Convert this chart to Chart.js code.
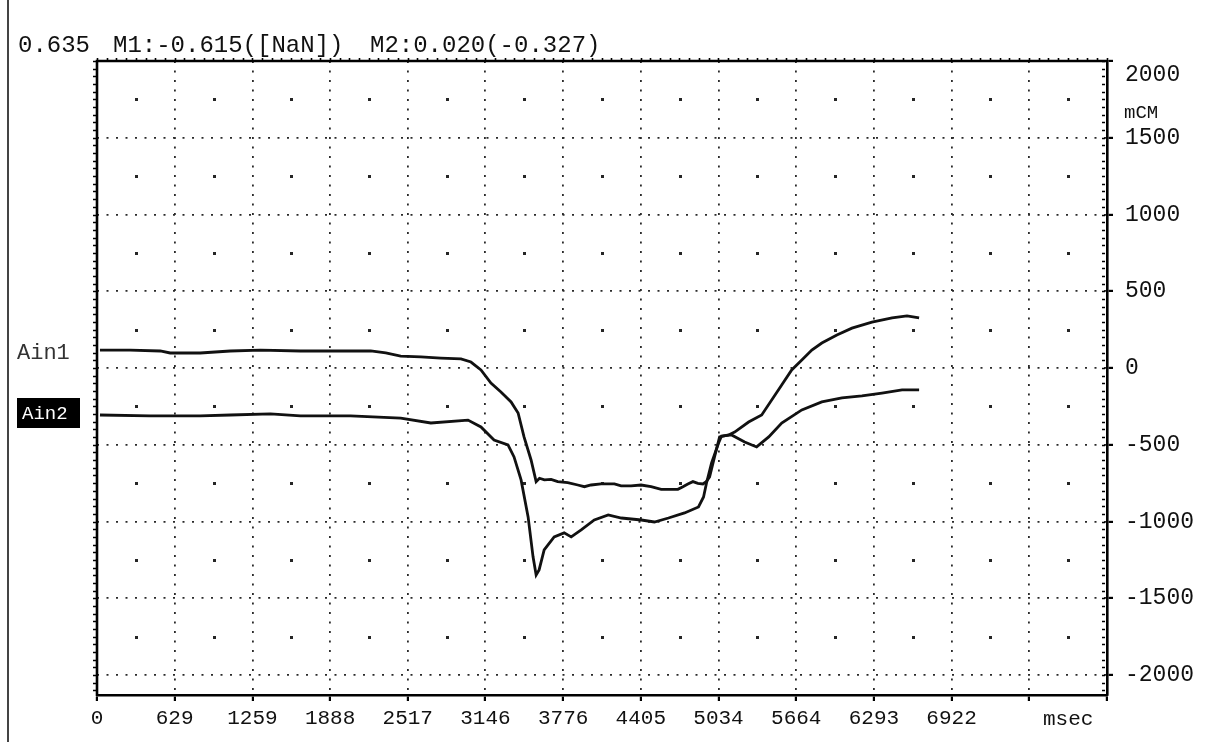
<!DOCTYPE html>
<html>
<head>
<meta charset="utf-8">
<script src="https://cdn.jsdelivr.net/npm/chart.js@4.4.1/dist/chart.umd.min.js"></script>
<style>
  html, body { margin: 0; padding: 0; background: #fff; }
  #wrap { width: 1211px; height: 742px; position: relative; }
  canvas { display: block; }
</style>
</head>
<body>
<div id="wrap"><canvas id="scope" width="1211" height="742"></canvas></div>
<script>
// Channel 1 trace (msec, mCM)
const timeA = [24, 268, 512, 593, 836, 1080, 1324, 1648, 1973, 2217, 2339, 2460, 2623, 2785, 2948, 3029,
  3110, 3191, 3272, 3354, 3411, 3459, 3516, 3557, 3584, 3624, 3678, 3732, 3813, 3894, 3948, 4002, 4083,
  4191, 4245, 4326, 4407, 4488, 4570, 4624, 4705, 4746, 4786, 4827, 4867, 4908, 4935,
  4962, 5002, 5043, 5116, 5165, 5278, 5384, 5546, 5627, 5709, 5790, 5871, 5993, 6115, 6277,
  6440, 6561, 6659];
const valueA = [117, 117, 111, 98, 98, 111, 117, 111, 111, 111, 98, 78, 72, 65, 59, 39,
  -13, -98, -156, -221, -293, -449, -599, -740, -718, -729, -725, -740, -747, -762, -773, -762, -755,
  -755, -768, -768, -762, -773, -790, -790, -790, -773, -755, -740, -751, -755, -740,
  -710, -579, -449, -436, -417, -352, -306, -111, -13, 52, 117, 163, 215, 260, 299,
  326, 339, 326];

// Channel 2 trace (msec, mCM)
const timeB = [24, 430, 836, 1080, 1405, 1648, 2054, 2460, 2704, 3005, 3110, 3216, 3329, 3378, 3435,
  3492, 3532, 3557, 3581, 3622, 3703, 3784, 3841, 3922, 4028, 4141, 4247, 4409, 4515, 4629, 4759, 4872,
  4913, 4937, 4978, 5035, 5059, 5140, 5246, 5343, 5441, 5546, 5709, 5871, 6034, 6196, 6358, 6521, 6659];
const valueB = [-306, -312, -312, -306, -299, -312, -312, -326, -358, -339, -384, -469, -501, -579, -729,
  -970, -1230, -1348, -1315, -1185, -1100, -1074, -1100, -1055, -990, -957, -977, -990, -1003, -977, -944, -905,
  -840, -749, -618, -488, -443, -436, -482, -514, -449, -358, -273, -221, -195, -182, -163, -143, -143];

// Axis ticks
const xTickValues = [0, 629, 1259, 1888, 2517, 3146, 3776, 4405, 5034, 5664, 6293, 6922, 7552, 8181];
const xTickLabels = ['0', '629', '1259', '1888', '2517', '3146', '3776', '4405', '5034', '5664', '6293', '6922', '', ''];
const yTickValues = [-2000, -1500, -1000, -500, 0, 500, 1000, 1500, 2000];
const yTickLabels = ['-2000', '-1500', '-1000', '-500', '0', '500', '1000', '1500', '2000'];
const xUnit = 'msec';
const yUnit = 'mCM';
const readout = ['0.635', 'M1:-0.615([NaN])', 'M2:0.020(-0.327)'];
const channelNames = ['Ain1', 'Ain2'];

const X_MIN = 0, X_MAX = 8181, Y_MIN = -2130, Y_MAX = 2000;
const MONO = '"Liberation Mono", "Courier New", monospace';
const INK = '#111';

const toPoints = (t, v) => t.map((x, i) => ({ x, y: v[i] }));

// Paper background, cell-centre dots, frame, minor ticks and the text around the plot
const scopeDecor = {
  id: 'scopeDecor',
  beforeDraw(chart) {
    const c = chart.ctx;
    c.save();
    c.fillStyle = '#fff';
    c.fillRect(0, 0, chart.width, chart.height);
    c.restore();
  },
  beforeDatasetsDraw(chart) {
    const c = chart.ctx, xs = chart.scales.x, ys = chart.scales.y;
    c.save();
    c.fillStyle = '#262626';
    for (let i = 0; i < xTickValues.length - 1; i++) {
      const px = xs.getPixelForValue((xTickValues[i] + xTickValues[i + 1]) / 2);
      for (let j = 0; j < yTickValues.length - 1; j++) {
        const py = ys.getPixelForValue((yTickValues[j] + yTickValues[j + 1]) / 2);
        c.fillRect(Math.round(px) - 1, Math.round(py) - 1, 3, 3);
      }
    }
    c.restore();
  },
  afterDraw(chart) {
    const c = chart.ctx, a = chart.chartArea, xs = chart.scales.x, ys = chart.scales.y;
    c.save();
    c.strokeStyle = '#000';
    // left and top edges of the plot frame
    c.lineWidth = 2.6;
    c.beginPath();
    c.moveTo(a.left, a.bottom + 1);
    c.lineTo(a.left, a.top);
    c.lineTo(a.right, a.top);
    c.stroke();
    // minor ticks
    c.lineWidth = 1.6;
    c.beginPath();
    for (let v = -2100; v <= Y_MAX; v += 50) {
      const py = Math.round(ys.getPixelForValue(v)) + 0.5;
      c.moveTo(a.left - 4, py); c.lineTo(a.left, py);
      c.moveTo(a.right - 5, py); c.lineTo(a.right - 2, py);
    }
    const xStep = (xTickValues[1] - xTickValues[0]) / 8;
    for (let v = 0; v <= X_MAX; v += xStep) {
      const px = Math.round(xs.getPixelForValue(v)) + 0.5;
      c.moveTo(px, a.top - 3); c.lineTo(px, a.top);
    }
    c.stroke();

    // outer frame line on the left
    c.strokeStyle = '#444';
    c.lineWidth = 2;
    c.beginPath();
    c.moveTo(8, 0); c.lineTo(8, chart.height);
    c.stroke();

    // cursor readout
    c.fillStyle = INK;
    c.textBaseline = 'middle';
    c.textAlign = 'left';
    c.font = '24px ' + MONO;
    c.fillText(readout[0], 18, 46);
    c.fillText(readout[1], 113, 46);
    c.fillText(readout[2], 370, 46);

    // unit labels
    c.font = '21px ' + MONO;
    c.textAlign = 'center';
    const ux = (xs.getPixelForValue(xTickValues[12]) + xs.getPixelForValue(xTickValues[13])) / 2;
    c.fillText(xUnit, ux, 719);
    c.textAlign = 'left';
    c.font = '19px ' + MONO;
    c.fillText(yUnit, 1124, 113);

    // channel tags
    c.font = '22px ' + MONO;
    c.fillStyle = '#333';
    c.fillText(channelNames[0], 17, 353);
    c.fillStyle = '#000';
    c.fillRect(17, 398, 63, 30);
    c.fillStyle = '#fff';
    c.font = '19px ' + MONO;
    c.fillText(channelNames[1], 22, 414);
    c.restore();
  }
};

const gridCommon = {
  color: '#2a2a2a',
  lineWidth: 1.8,
  drawTicks: true,
  tickLength: 6,
  tickColor: '#000',
  tickWidth: 2.2,
  tickBorderDash: []
};

new Chart(document.getElementById('scope').getContext('2d'), {
  type: 'line',
  data: {
    datasets: [
      { data: toPoints(timeA, valueA), borderColor: '#111', borderWidth: 2.8, pointRadius: 0, tension: 0, fill: false },
      { data: toPoints(timeB, valueB), borderColor: '#111', borderWidth: 2.8, pointRadius: 0, tension: 0, fill: false }
    ]
  },
  options: {
    responsive: false,
    animation: false,
    devicePixelRatio: 1,
    layout: { padding: { left: 97, top: 61, right: 0, bottom: 0 } },
    plugins: { legend: { display: false }, tooltip: { enabled: false } },
    scales: {
      x: {
        type: 'linear',
        position: 'bottom',
        min: X_MIN,
        max: X_MAX,
        afterBuildTicks: s => { s.ticks = xTickValues.map(v => ({ value: v })); },
        afterFit: s => { s.height = 47; },
        ticks: {
          autoSkip: false, maxRotation: 0, minRotation: 0, padding: 5, color: INK,
          font: { family: MONO, size: 21 },
          callback: (v, i) => xTickLabels[i]
        },
        grid: gridCommon,
        border: { display: true, color: '#000', width: 2.6, dash: [2, 7.5] }
      },
      y: {
        type: 'linear',
        position: 'right',
        min: Y_MIN,
        max: Y_MAX,
        afterBuildTicks: s => { s.ticks = yTickValues.map(v => ({ value: v })); },
        afterFit: s => { s.width = 104; },
        ticks: {
          autoSkip: false, crossAlign: 'near', padding: 12, color: INK,
          font: { family: MONO, size: 23 },
          callback: (v, i) => (i === yTickLabels.length - 1 ? ['', yTickLabels[i]] : yTickLabels[i])
        },
        grid: gridCommon,
        border: { display: true, color: '#000', width: 2.6, dash: [2, 7.5] }
      }
    }
  },
  plugins: [scopeDecor]
});
</script>
</body>
</html>
